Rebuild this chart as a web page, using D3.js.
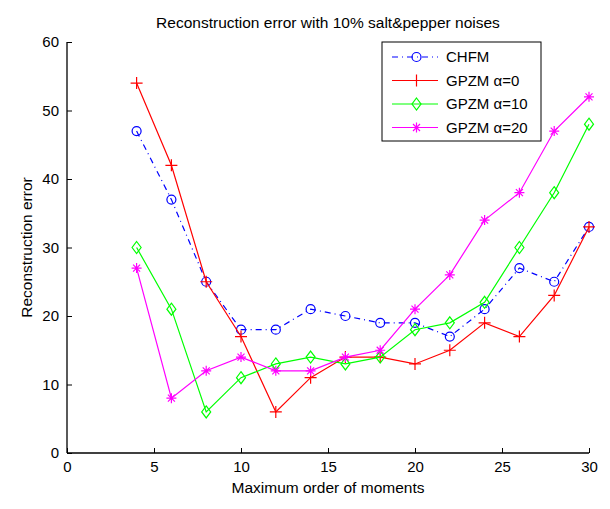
<!DOCTYPE html>
<html><head><meta charset="utf-8">
<script src="https://cdn.jsdelivr.net/npm/d3@7"></script>
<style>body{margin:0;background:#fff}text{font-family:"Liberation Sans",Arial,sans-serif}</style>
</head><body><svg id="c" width="610" height="509"></svg>
<script>
const orders = [4,6,8,10,12,14,16,18,20,22,24,26,28,30];
const chfm   = [47,37,25,18,18,21,20,19,19,17,21,27,25,33];
const gpzm0  = [54,42,25,17,6,11,14,14,13,15,19,17,23,33];
const gpzm10 = [30,21,6,11,13,14,13,14,18,19,22,30,38,48];
const gpzm20 = [27,8,12,14,12,12,14,15,21,26,34,38,47,52];
const seriesNames = ["CHFM","GPZM \u03b1=0","GPZM \u03b1=10","GPZM \u03b1=20"];
const xTicks = [0,5,10,15,20,25,30];
const yTicks = [0,10,20,30,40,50,60];

const svg = d3.select("#c");
const L=67,R=589,T=42,B=453;
const x = d3.scaleLinear().domain([0,30]).range([L,R]);
const y = d3.scaleLinear().domain([0,60]).range([B,T]);

const series = [
 {name:seriesNames[0], vals:chfm, color:"#0000ff", dash:"6,4,1,4", marker:"circle"},
 {name:seriesNames[1], vals:gpzm0, color:"#ff0000", dash:null, marker:"plus"},
 {name:seriesNames[2], vals:gpzm10, color:"#00ff00", dash:null, marker:"diamond"},
 {name:seriesNames[3], vals:gpzm20, color:"#ff00ff", dash:null, marker:"star"}
];

// axes
const xAxis = d3.axisBottom(x).tickValues(xTicks).tickSize(-5).tickPadding(8).tickFormat(d3.format("d"));
const yAxis = d3.axisLeft(y).tickValues(yTicks).tickSize(-5).tickPadding(8).tickFormat(d3.format("d"));
const gx = svg.append("g").attr("transform",`translate(0,${B})`).call(xAxis);
const gy = svg.append("g").attr("transform",`translate(${L},0)`).call(yAxis);
[gx,gy].forEach(g=>{
  g.select(".domain").attr("stroke","#000").attr("stroke-width",1.3);
  g.selectAll(".tick line").attr("stroke","#000").attr("stroke-width",1);
  g.selectAll(".tick text").attr("fill","#000").style("font-size","15px").style("font-family","Liberation Sans, Arial, sans-serif");
});
gx.select(".domain").attr("d",`M${L},0H${R}`);
gy.select(".domain").attr("d",`M0,${B}V${T}`);

function drawMarker(g, type, cx, cy, color){
  if(type==="circle"){
    g.append("circle").attr("cx",cx).attr("cy",cy).attr("r",4.5).attr("fill","none").attr("stroke",color).attr("stroke-width",1.2);
  } else if(type==="plus"){
    g.append("path").attr("d",`M${cx-6},${cy}H${cx+6}M${cx},${cy-6}V${cy+6}`).attr("stroke",color).attr("stroke-width",1.2);
  } else if(type==="diamond"){
    g.append("path").attr("d",`M${cx},${cy-6}L${cx+4.5},${cy}L${cx},${cy+6}L${cx-4.5},${cy}Z`).attr("fill","none").attr("stroke",color).attr("stroke-width",1.2);
  } else if(type==="star"){
    const r=5;
    g.append("path").attr("d",`M${cx-r},${cy}H${cx+r}M${cx},${cy-r}V${cy+r}M${cx-r*0.7},${cy-r*0.7}L${cx+r*0.7},${cy+r*0.7}M${cx-r*0.7},${cy+r*0.7}L${cx+r*0.7},${cy-r*0.7}`).attr("stroke",color).attr("stroke-width",1.2);
  }
}

const line = d3.line().x(d=>x(d[0])).y(d=>y(d[1]));
series.forEach(s=>{
  const pts = orders.map((o,i)=>[o,s.vals[i]]);
  const g = svg.append("g");
  g.append("path").attr("d",line(pts)).attr("fill","none").attr("stroke",s.color).attr("stroke-width",1.2)
    .attr("stroke-dasharray",s.dash);
  pts.forEach(p=>drawMarker(g,s.marker,x(p[0]),y(p[1]),s.color));
});

// legend
const lg = svg.append("g");
lg.append("rect").attr("x",382).attr("y",42).attr("width",159).attr("height",99).attr("fill","#fff").attr("stroke","#000").attr("stroke-width",1);
const ly = [57,80.5,104,127.5];
series.forEach((s,i)=>{
  lg.append("path").attr("d",`M392,${ly[i]}H438`).attr("stroke",s.color).attr("stroke-width",1.2).attr("stroke-dasharray",s.dash);
  drawMarker(lg,s.marker,416.5,ly[i],s.color);
  lg.append("text").attr("x",446).attr("y",ly[i]).attr("dy","0.35em").style("font-size","15px").attr("fill","#000").text(s.name);
});

// titles
svg.append("text").attr("x",(L+R)/2).attr("y",28).attr("text-anchor","middle").style("font-size","15.5px").text("Reconstruction error with 10% salt&pepper noises");
svg.append("text").attr("x",(L+R)/2).attr("y",493).attr("text-anchor","middle").style("font-size","15.5px").text("Maximum order of moments");
svg.append("text").attr("transform",`translate(32,${(T+B)/2}) rotate(-90)`).attr("text-anchor","middle").style("font-size","15.5px").text("Reconstruction error");
</script></body></html>
